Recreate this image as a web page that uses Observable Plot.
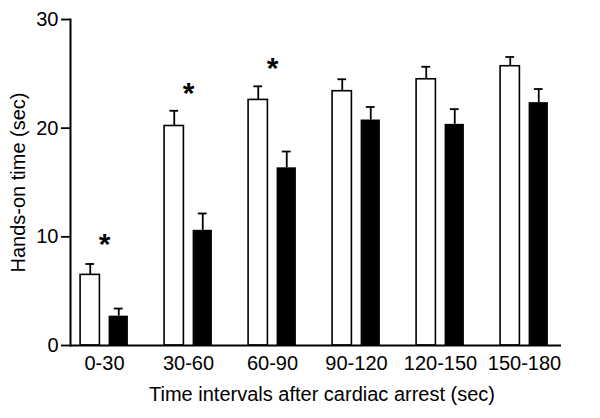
<!DOCTYPE html>
<html>
<head>
<meta charset="utf-8">
<script src="https://cdn.jsdelivr.net/npm/d3@7"></script>
<script src="https://cdn.jsdelivr.net/npm/@observablehq/plot@0.6"></script>
<style>
  html, body { margin: 0; padding: 0; background: #fff; }
  svg { font-family: "Liberation Sans", Arial, sans-serif; }
</style>
</head>
<body>
<div id="chart"></div>
<script>
const categories = ["0-30", "30-60", "60-90", "90-120", "120-150", "150-180"];
const whiteValues = [6.5, 20.2, 22.6, 23.4, 24.5, 25.7];
const whiteErrors = [1.0, 1.4, 1.25, 1.1, 1.15, 0.85];
const blackValues = [2.7, 10.6, 16.35, 20.75, 20.35, 22.35];
const blackErrors = [0.7, 1.55, 1.5, 1.2, 1.4, 1.25];
const starCategories = ["0-30", "30-60", "60-90"];
const starY = [9.3, 23.2, 25.5];
const yTicks = [0, 10, 20, 30];

const white = categories.map((c, i) => ({cat: c, value: whiteValues[i], err: whiteErrors[i]}));
const black = categories.map((c, i) => ({cat: c, value: blackValues[i], err: blackErrors[i]}));
const stars = starCategories.map((c, i) => ({cat: c, y: starY[i]}));

const off = 14.25;
const chart = Plot.plot({
  width: 600,
  height: 418,
  marginLeft: 70,
  marginRight: 39,
  marginTop: 19,
  marginBottom: 73,
  style: {fontFamily: "Liberation Sans, Arial, sans-serif", fontSize: "20px", color: "#000", background: "#fff"},
  x: {domain: categories, range: [61.4, 566.6], padding: 0, label: null},
  y: {domain: [0, 30], label: null},
  marks: [
    // error bars
    Plot.ruleX(white, {x: "cat", y1: "value", y2: d => d.value + d.err, dx: -off, stroke: "#000", strokeWidth: 1.8}),
    Plot.tickY(white, {x: "cat", y: d => d.value + d.err, dx: -off, insetLeft: 37.6, insetRight: 37.6, stroke: "#000", strokeWidth: 1.8}),
    Plot.ruleX(black, {x: "cat", y1: "value", y2: d => d.value + d.err, dx: off, stroke: "#000", strokeWidth: 1.8}),
    Plot.tickY(black, {x: "cat", y: d => d.value + d.err, dx: off, insetLeft: 37.6, insetRight: 37.6, stroke: "#000", strokeWidth: 1.8}),
    // bars
    Plot.barY(white, {x: "cat", y: "value", insetLeft: 18.1, insetRight: 46.6, fill: "#fff", stroke: "#000", strokeWidth: 1.6}),
    Plot.barY(black, {x: "cat", y: "value", insetLeft: 46.6, insetRight: 18.1, fill: "#000"}),
    // stars
    Plot.text(stars, {x: "cat", y: "y", text: () => "*", fontSize: 30, fontWeight: "bold", fill: "#000", lineAnchor: "middle"}),
    // axes
    Plot.axisY({ticks: yTicks, tickSize: 9, tickPadding: 3, fontSize: 20, strokeWidth: 1.8, label: null}),
    Plot.axisX({tickSize: 0, tickPadding: 10, fontSize: 20, label: null}),
    Plot.ruleY([0], {stroke: "#000", strokeWidth: 2}),
    Plot.frame({anchor: "left", stroke: "#000", strokeWidth: 2}),
    Plot.text(["Hands-on time (sec)"], {frameAnchor: "left", textAnchor: "middle", lineAnchor: "middle", dx: -52, rotate: -90, fontSize: 20, fill: "#000"}),
    Plot.text(["Time intervals after cardiac arrest (sec)"], {frameAnchor: "bottom", textAnchor: "middle", lineAnchor: "middle", dx: 6, dy: 49, fontSize: 20, fill: "#000"})
  ]
});
document.getElementById("chart").appendChild(chart);
</script>
</body>
</html>
